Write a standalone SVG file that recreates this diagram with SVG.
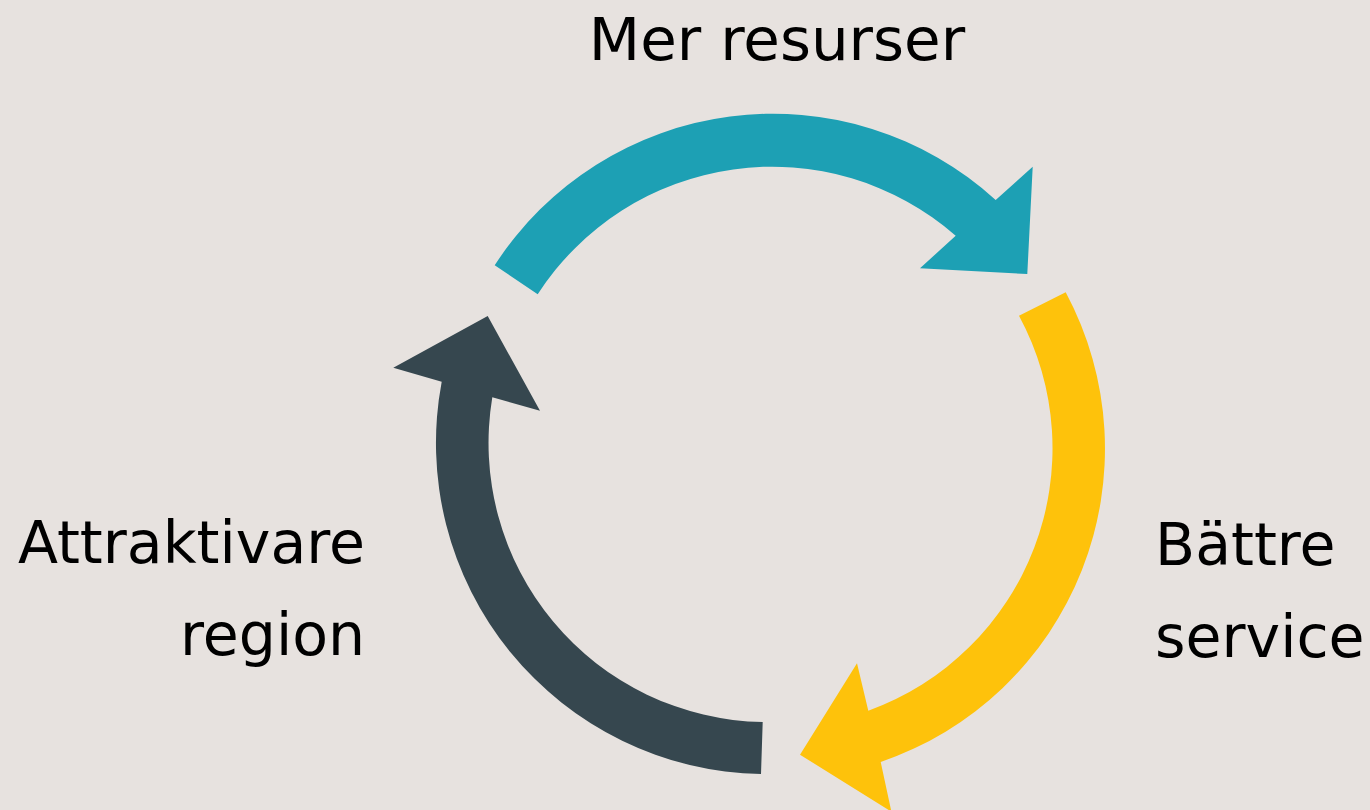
<svg xmlns="http://www.w3.org/2000/svg" width="1370" height="810" viewBox="0 0 1370 810">
<style>
.lbl{font-family:"DejaVu Sans","Liberation Sans",sans-serif;font-size:58.5px;fill:#000}
</style>
<rect x="0" y="0" width="1370" height="810" fill="#E7E2DF"/>
<g id="connectors">
<path id="arrow-teal" fill="#1DA0B4" d="M494.7,265.3 A331,331 0 0 1 995.7,200 L1032.7,166.7 L1027.3,274 L920,268.3 L955.7,235.7 A279,279 0 0 0 537.7,294.3 Z"/>
<path id="arrow-yellow" fill="#FEC20B" d="M1065.7,292.3 A331,331 0 0 1 880.7,762 L891.4,811.7 L800,754.7 L857,663.3 L868.3,710.7 A279,279 0 0 0 1019,315.7 Z"/>
<path id="arrow-dark" fill="#36474F" d="M761,774 A331,331 0 0 1 441.7,381.7 L393.3,367.7 L487.7,316 L540,410.7 L492.3,397.3 A279,279 0 0 0 762.7,722 Z"/>
</g>
<g id="node-mer-resurser"><text class="lbl" x="777" y="60" text-anchor="middle" style="font-size:59.5px">Mer resurser</text></g>
<g id="node-battre-service"><text class="lbl" x="1155" y="565">Bättre</text><text class="lbl" x="1155" y="657">service</text></g>
<g id="node-attraktivare-region"><text class="lbl" x="365" y="563" text-anchor="end">Attraktivare</text><text class="lbl" x="365" y="655" text-anchor="end">region</text></g>
</svg>
